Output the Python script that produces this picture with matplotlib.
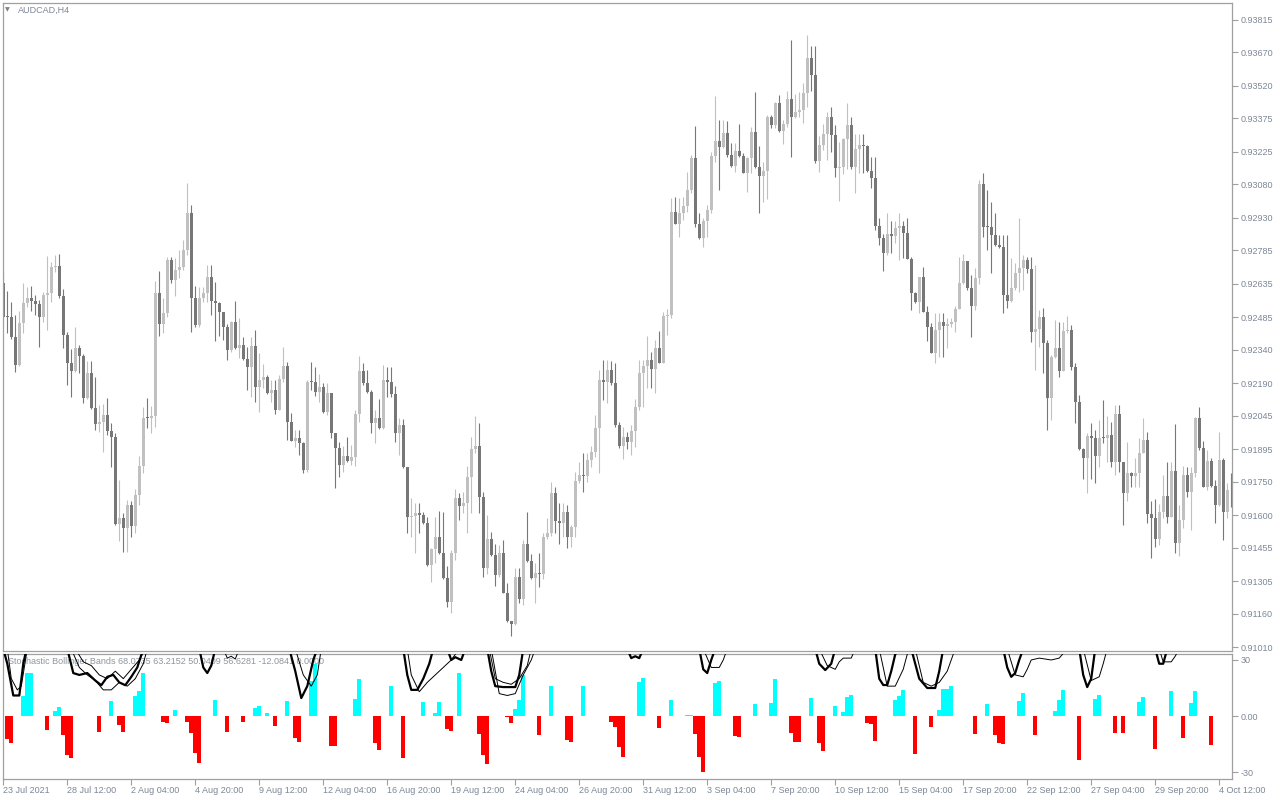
import numpy as np
import matplotlib
matplotlib.use("Agg")
import matplotlib.pyplot as plt

# AUDCAD H4 candles (open of each bar = previous close)
first_open = 0.92639
closes = [
    0.92487, 0.92487, 0.92398, 0.92272, 0.92460, 0.92550, 0.92572, 0.92559, 0.92545, 0.92487,
    0.92585, 0.92594, 0.92711, 0.92715, 0.92581, 0.92407, 0.92281, 0.92246, 0.92348, 0.92313,
    0.92125, 0.92237, 0.92080, 0.92009, 0.92018, 0.92049, 0.91978, 0.91951, 0.91562, 0.91589,
    0.91544, 0.91647, 0.91553, 0.91691, 0.91821, 0.92035, 0.92035, 0.92045, 0.92594, 0.92456,
    0.92505, 0.92742, 0.92652, 0.92697, 0.92711, 0.92787, 0.92952, 0.92572, 0.92451, 0.92572,
    0.92594, 0.92666, 0.92559, 0.92550, 0.92509, 0.92442, 0.92339, 0.92465, 0.92348, 0.92362,
    0.92299, 0.92264, 0.92357, 0.92174, 0.92205, 0.92219, 0.92147, 0.92161, 0.92071, 0.92210,
    0.92268, 0.92018, 0.91933, 0.91946, 0.91924, 0.91803, 0.92196, 0.92196, 0.92152, 0.92176,
    0.92062, 0.92147, 0.91969, 0.91902, 0.91825, 0.91866, 0.91843, 0.91861, 0.92054, 0.92246,
    0.92192, 0.92152, 0.92013, 0.92035, 0.91991, 0.92205, 0.92196, 0.92143, 0.91969, 0.92004,
    0.91817, 0.91593, 0.91597, 0.91611, 0.91602, 0.91566, 0.91379, 0.91450, 0.91504, 0.91432,
    0.91321, 0.91213, 0.91432, 0.91678, 0.91641, 0.91656, 0.91772, 0.91897, 0.91910, 0.91682,
    0.91366, 0.91495, 0.91423, 0.91335, 0.91432, 0.91253, 0.91128, 0.91116, 0.91326, 0.91227,
    0.91472, 0.91396, 0.91321, 0.91344, 0.91339, 0.91504, 0.91521, 0.91700, 0.91575, 0.91566,
    0.91616, 0.91504, 0.91547, 0.91753, 0.91782, 0.91777, 0.91848, 0.91884, 0.91991, 0.92205,
    0.92196, 0.92250, 0.92192, 0.92004, 0.91910, 0.91951, 0.91928, 0.91978, 0.92085, 0.92237,
    0.92268, 0.92295, 0.92255, 0.92348, 0.92281, 0.92491, 0.92496, 0.92956, 0.92903, 0.92952,
    0.92983, 0.93055, 0.93198, 0.92903, 0.92840, 0.92916, 0.92965, 0.93207, 0.93274, 0.93247,
    0.93309, 0.93211, 0.93162, 0.93229, 0.93207, 0.93131, 0.93198, 0.93314, 0.93158, 0.93117,
    0.93140, 0.93381, 0.93345, 0.93444, 0.93318, 0.93350, 0.93461, 0.93381, 0.93403, 0.93412,
    0.93488, 0.93645, 0.93569, 0.93184, 0.93256, 0.93305, 0.93381, 0.93301, 0.93153, 0.93158,
    0.93283, 0.93345, 0.93158, 0.93238, 0.93256, 0.93251, 0.93140, 0.93108, 0.92894, 0.92840,
    0.92773, 0.92858, 0.92849, 0.92885, 0.92894, 0.92863, 0.92746, 0.92594, 0.92554, 0.92666,
    0.92509, 0.92442, 0.92326, 0.92429, 0.92465, 0.92447, 0.92456, 0.92465, 0.92523, 0.92639,
    0.92737, 0.92617, 0.92536, 0.92661, 0.93082, 0.92889, 0.92889, 0.92854, 0.92809, 0.92800,
    0.92585, 0.92559, 0.92617, 0.92684, 0.92706, 0.92742, 0.92702, 0.92420, 0.92433, 0.92487,
    0.92371, 0.92125, 0.92308, 0.92348, 0.92246, 0.92424, 0.92429, 0.92264, 0.92107, 0.91897,
    0.91857, 0.91955, 0.91946, 0.91866, 0.91946, 0.91946, 0.91960, 0.91839, 0.92054, 0.91839,
    0.91700, 0.91790, 0.91777, 0.91790, 0.91879, 0.91936, 0.91606, 0.91589, 0.91495, 0.91615,
    0.91687, 0.91593, 0.91799, 0.91477, 0.91580, 0.91782, 0.91704, 0.91790, 0.92035, 0.91902,
    0.91727, 0.91843, 0.91731, 0.91646, 0.91848, 0.91615, 0.91713, 0.91713,
]
highs = [
    0.92693, 0.92603, 0.92554, 0.92496, 0.92514, 0.92639, 0.92621, 0.92626, 0.92585, 0.92563,
    0.92599, 0.92760, 0.92733, 0.92764, 0.92769, 0.92612, 0.92420, 0.92344, 0.92442, 0.92362,
    0.92322, 0.92290, 0.92290, 0.92219, 0.92094, 0.92098, 0.92125, 0.92013, 0.91969, 0.91758,
    0.91611, 0.91669, 0.91665, 0.91718, 0.91866, 0.92085, 0.92125, 0.92089, 0.92648, 0.92693,
    0.92572, 0.92755, 0.92755, 0.92751, 0.92787, 0.92831, 0.93086, 0.92988, 0.92626, 0.92621,
    0.92621, 0.92720, 0.92720, 0.92643, 0.92554, 0.92482, 0.92456, 0.92469, 0.92559, 0.92482,
    0.92398, 0.92353, 0.92398, 0.92429, 0.92326, 0.92277, 0.92228, 0.92207, 0.92207, 0.92228,
    0.92353, 0.92286, 0.92058, 0.91982, 0.91982, 0.91928, 0.92205, 0.92286, 0.92264, 0.92232,
    0.92192, 0.92192, 0.92147, 0.91969, 0.91928, 0.91910, 0.91951, 0.91915, 0.92071, 0.92313,
    0.92281, 0.92250, 0.92161, 0.92071, 0.92120, 0.92272, 0.92264, 0.92264, 0.92179, 0.92035,
    0.92031, 0.91817, 0.91678, 0.91656, 0.91656, 0.91616, 0.91593, 0.91454, 0.91593, 0.91620,
    0.91614, 0.91374, 0.91446, 0.91718, 0.91700, 0.91704, 0.91821, 0.91951, 0.92045, 0.92013,
    0.91704, 0.91602, 0.91524, 0.91472, 0.91468, 0.91490, 0.91298, 0.91128, 0.91366, 0.91366,
    0.91490, 0.91614, 0.91428, 0.91387, 0.91432, 0.91521, 0.91589, 0.91749, 0.91727, 0.91656,
    0.91656, 0.91647, 0.91557, 0.91794, 0.91839, 0.91879, 0.91879, 0.91910, 0.92049, 0.92250,
    0.92295, 0.92295, 0.92290, 0.92281, 0.92018, 0.91995, 0.91973, 0.92004, 0.92120, 0.92295,
    0.92295, 0.92402, 0.92330, 0.92384, 0.92424, 0.92509, 0.92521, 0.93019, 0.93023, 0.93019,
    0.93023, 0.93135, 0.93211, 0.93341, 0.92952, 0.92929, 0.92988, 0.93225, 0.93475, 0.93368,
    0.93368, 0.93363, 0.93265, 0.93265, 0.93350, 0.93220, 0.93202, 0.93337, 0.93493, 0.93251,
    0.93180, 0.93390, 0.93390, 0.93448, 0.93479, 0.93368, 0.93497, 0.93725, 0.93484, 0.93493,
    0.93533, 0.93748, 0.93698, 0.93698, 0.93296, 0.93350, 0.93403, 0.93426, 0.93345, 0.93269,
    0.93287, 0.93444, 0.93381, 0.93305, 0.93305, 0.93305, 0.93256, 0.93202, 0.93202, 0.92929,
    0.92858, 0.92952, 0.92916, 0.92916, 0.92952, 0.92916, 0.92929, 0.92755, 0.92599, 0.92666,
    0.92711, 0.92536, 0.92460, 0.92505, 0.92505, 0.92505, 0.92482, 0.92482, 0.92536, 0.92755,
    0.92769, 0.92675, 0.92675, 0.92706, 0.93100, 0.93131, 0.93055, 0.93001, 0.92952, 0.92854,
    0.92854, 0.92854, 0.92751, 0.92728, 0.92929, 0.92764, 0.92755, 0.92755, 0.92720, 0.92518,
    0.92527, 0.92384, 0.92317, 0.92474, 0.92465, 0.92465, 0.92491, 0.92451, 0.92281, 0.92138,
    0.91902, 0.91969, 0.92013, 0.91982, 0.92027, 0.92116, 0.92045, 0.92018, 0.92094, 0.92094,
    0.91841, 0.91928, 0.91794, 0.91857, 0.91946, 0.92035, 0.91973, 0.91665, 0.91675, 0.91651,
    0.91782, 0.91841, 0.91841, 0.92009, 0.91647, 0.91821, 0.91817, 0.91817, 0.92040, 0.92085,
    0.91933, 0.91893, 0.91857, 0.91758, 0.91973, 0.91857, 0.91745, 0.91790,
]
lows = [
    0.92474, 0.92416, 0.92389, 0.92241, 0.92268, 0.92416, 0.92532, 0.92514, 0.92496, 0.92353,
    0.92465, 0.92429, 0.92554, 0.92688, 0.92572, 0.92348, 0.92183, 0.92129, 0.92241, 0.92237,
    0.92102, 0.92120, 0.92076, 0.91982, 0.91973, 0.91884, 0.91960, 0.91817, 0.91557, 0.91486,
    0.91437, 0.91437, 0.91504, 0.91521, 0.91647, 0.91790, 0.91991, 0.91969, 0.91995, 0.92402,
    0.92416, 0.92487, 0.92639, 0.92581, 0.92661, 0.92697, 0.92764, 0.92420, 0.92442, 0.92442,
    0.92554, 0.92554, 0.92496, 0.92380, 0.92402, 0.92384, 0.92295, 0.92330, 0.92344, 0.92304,
    0.92295, 0.92161, 0.92129, 0.92107, 0.92062, 0.92170, 0.92143, 0.92107, 0.92054, 0.92071,
    0.92196, 0.91936, 0.91933, 0.91906, 0.91870, 0.91790, 0.91794, 0.92161, 0.92134, 0.92107,
    0.92058, 0.92049, 0.91946, 0.91724, 0.91772, 0.91794, 0.91839, 0.91825, 0.91821, 0.92018,
    0.92183, 0.92147, 0.91969, 0.91924, 0.91986, 0.91986, 0.92129, 0.92129, 0.91928, 0.91870,
    0.91812, 0.91521, 0.91504, 0.91432, 0.91521, 0.91562, 0.91374, 0.91302, 0.91387, 0.91428,
    0.91317, 0.91191, 0.91163, 0.91401, 0.91580, 0.91611, 0.91521, 0.91611, 0.91879, 0.91611,
    0.91326, 0.91339, 0.91419, 0.91285, 0.91326, 0.91253, 0.91124, 0.91062, 0.91111, 0.91209,
    0.91200, 0.91392, 0.91317, 0.91209, 0.91280, 0.91315, 0.91495, 0.91508, 0.91521, 0.91472,
    0.91504, 0.91454, 0.91459, 0.91504, 0.91745, 0.91704, 0.91749, 0.91817, 0.91861, 0.91790,
    0.92116, 0.92102, 0.92183, 0.91995, 0.91902, 0.91852, 0.91897, 0.91870, 0.91906, 0.92071,
    0.92085, 0.92170, 0.92170, 0.92147, 0.92281, 0.92281, 0.92407, 0.92482, 0.92903, 0.92845,
    0.92921, 0.92956, 0.93041, 0.92889, 0.92836, 0.92800, 0.92845, 0.92952, 0.93180, 0.93055,
    0.93242, 0.93202, 0.93158, 0.93135, 0.93202, 0.93131, 0.93046, 0.93131, 0.93153, 0.92952,
    0.93001, 0.93015, 0.93332, 0.93332, 0.93314, 0.93260, 0.93337, 0.93202, 0.93377, 0.93381,
    0.93354, 0.93426, 0.93497, 0.93175, 0.93135, 0.93233, 0.93189, 0.93225, 0.93113, 0.93006,
    0.93126, 0.93149, 0.93149, 0.93041, 0.93131, 0.93131, 0.93135, 0.93064, 0.92876, 0.92809,
    0.92693, 0.92764, 0.92773, 0.92818, 0.92742, 0.92751, 0.92746, 0.92518, 0.92550, 0.92505,
    0.92509, 0.92380, 0.92326, 0.92281, 0.92308, 0.92308, 0.92348, 0.92442, 0.92420, 0.92523,
    0.92635, 0.92608, 0.92398, 0.92518, 0.92635, 0.92845, 0.92787, 0.92684, 0.92804, 0.92795,
    0.92505, 0.92527, 0.92554, 0.92608, 0.92599, 0.92608, 0.92684, 0.92375, 0.92250, 0.92353,
    0.92237, 0.91982, 0.92027, 0.92304, 0.92219, 0.92250, 0.92416, 0.92250, 0.92013, 0.91893,
    0.91763, 0.91700, 0.91763, 0.91745, 0.91817, 0.91924, 0.91839, 0.91817, 0.91782, 0.91794,
    0.91557, 0.91665, 0.91726, 0.91726, 0.91727, 0.91879, 0.91566, 0.91409, 0.91459, 0.91468,
    0.91589, 0.91566, 0.91593, 0.91432, 0.91419, 0.91544, 0.91682, 0.91535, 0.91772, 0.91893,
    0.91726, 0.91713, 0.91727, 0.91566, 0.91641, 0.91490, 0.91589, 0.91636,
]

price_labels = ["0.93815", "0.93670", "0.93520", "0.93375", "0.93225", "0.93080", "0.92930",
                "0.92785", "0.92635", "0.92485", "0.92340", "0.92190", "0.92045", "0.91895",
                "0.91750", "0.91600", "0.91455", "0.91305", "0.91160", "0.91010"]
date_labels = ["23 Jul 2021", "28 Jul 12:00", "2 Aug 04:00", "4 Aug 20:00", "9 Aug 12:00",
               "12 Aug 04:00", "16 Aug 20:00", "19 Aug 12:00", "24 Aug 04:00", "26 Aug 20:00",
               "31 Aug 12:00", "3 Sep 04:00", "7 Sep 20:00", "10 Sep 12:00", "15 Sep 04:00",
               "17 Sep 20:00", "22 Sep 12:00", "27 Sep 04:00", "29 Sep 20:00", "4 Oct 12:00"]
date_every = 16

# histogram of the indicator (bar index, value), zero bars left out
hist_bars = [1, 2, 5, 6, 7, 11, 13, 14, 15, 16, 17, 24, 27, 29, 30, 33, 34, 35, 40, 41,
             43, 46, 47, 48, 49, 53, 56, 60, 63, 64, 66, 68, 71, 73, 74, 77, 78, 82, 83, 88,
             89, 93, 94, 97, 100, 105, 108, 109, 111, 112, 114, 119, 120, 121, 126, 127, 128, 129, 130, 134,
             137, 141, 142, 145, 152, 153, 154, 155, 159, 160, 164, 167, 171, 172, 173, 174, 175, 178, 179, 183,
             184, 188, 192, 193, 197, 198, 199, 202, 204, 205, 208, 210, 211, 212, 216, 217, 218, 223, 224, 225,
             228, 232, 234, 235, 236, 237, 243, 246, 248, 249, 250, 254, 255, 258, 263, 264, 265, 269, 273, 274,
             278, 280, 284, 285, 288, 292, 295, 297, 298, 302]
hist_values = [-12.3, -14.3, 10.7, 22.9, 22.9, -7.5, 2.9, 5.0, -10.2, -20.9, -22.3, -8.4, 8.2, -4.8, -8.4, 10.7, 13.6, 22.9, -3.0, -3.6,
               3.2, -3.0, -8.9, -19.6, -25.4, 8.6, -8.4, -3.0, 4.1, 5.4, 1.8, -5.2, 8.0, -12.0, -13.8, 18.9, 28.0, -16.0, -16.0, 8.9,
               19.6, -14.3, -18.2, 16.0, -22.3, 7.7, 1.8, 7.7, -7.1, -7.9, 23.2, -9.6, -20.9, -25.7, -0.5, -3.6, 3.8, 8.6, 22.0, -10.2,
               16.0, -12.9, -13.8, 16.0, -3.0, -5.7, -16.4, -21.8, 18.2, 20.2, -6.3, 8.6, 0.3, 0.4, -9.6, -22.1, -29.8, 17.5, 18.8, -10.5,
               -11.1, 6.4, 7.1, 19.8, -8.9, -13.8, -13.8, 9.8, -14.3, -18.8, 5.4, 2.3, 10.0, 11.3, -3.6, -4.3, -13.2, 8.6, 10.7, 13.9,
               -20.4, -5.7, 3.2, 14.3, 14.3, 16.0, -9.6, 6.4, -10.2, -14.3, -15.0, 8.0, 12.5, -10.2, 2.7, 8.6, 13.9, -23.6, 8.9, 11.3,
               -8.9, -8.9, 7.7, 10.0, -17.7, 13.4, -11.6, 7.1, 13.4, -15.5]

# band lines of the indicator: only the parts that dip into the visible range
thick_dips = [
    [(0, 36), (1, 28), (2.5, 11), (4, 11), (5, 28), (5.8, 36)],
    [(16, 36), (17.5, 23), (19, 22), (21, 23), (23, 19), (24.5, 16.5), (26, 21), (27.5, 22),
     (29, 18), (30.5, 16.5), (32, 21), (33.5, 26), (35, 36)],
    [(49, 36), (50, 26), (51, 23), (52, 27), (53, 36)],
    [(71.5, 36), (73, 24), (74.5, 9.6), (76, 16), (77.5, 30), (78.5, 36)],
    [(100, 36), (101, 22), (102, 14), (103.5, 14), (105, 20), (106.5, 28), (107.5, 36)],
    [(111, 36), (112, 30), (113, 31.5), (114.5, 30), (115.5, 36)],
    [(121, 36), (122, 24), (123, 16), (125, 15.5), (128, 15.5), (129, 22), (130, 36)],
    [(156, 36), (157, 31), (158, 32), (159, 31), (160, 36)],
    [(174, 36), (175, 25), (176, 23), (177, 30), (178, 36)],
    [(203, 36), (204, 28), (205.5, 24.6), (207, 28), (208, 36)],
    [(218, 36), (219, 20), (220, 16.6), (221, 16.6), (222, 24), (223, 33), (224, 36)],
    [(227, 36), (229, 20), (231, 15), (233, 15), (234, 24), (235, 36)],
    [(250, 36), (251, 26), (252, 21), (253, 23), (254, 30), (255, 36)],
    [(269, 36), (270, 22), (271, 15.5), (272, 20), (273, 36)],
    [(288, 36), (289, 28), (290, 28), (291, 36)],
]
thin_dips = [
    [(1, 36), (2, 20), (3.5, 14), (4.5, 16), (6, 36)],
    [(17, 36), (19, 26), (21, 22), (23, 19), (25, 14), (27, 14), (29, 18), (31, 16), (33, 20), (35, 28), (36, 36)],
    [(18, 36), (20, 29), (22, 27), (24, 22), (26, 20), (28, 24), (30, 20), (32, 25), (34, 30), (35.5, 36)],
    [(55, 36), (56, 31), (57, 32), (58, 30.5), (59, 36)],
    [(73, 36), (75, 22), (77, 16), (78.5, 22), (79.5, 36)],
    [(101, 36), (102, 22), (104, 13), (106, 18), (108, 22), (110, 26), (112, 30), (114, 36)],
    [(122, 36), (124, 12), (126, 11), (128, 12), (130, 22), (132, 30), (133, 36)],
    [(121.5, 36), (123, 20), (125, 18), (127, 17), (129, 20), (131, 27), (132, 36)],
    [(175, 36), (177, 26), (179, 26), (180, 30), (181, 36)],
    [(204, 36), (206, 27), (208, 25), (209, 29), (210, 31), (212, 31), (213, 36)],
    [(219, 36), (221, 16), (223, 16), (225, 25), (226, 33), (227, 36)],
    [(228, 36), (230, 18), (232, 16), (234, 18), (236, 24), (237, 30), (238, 36)],
    [(251, 36), (253, 22), (255, 21), (256, 25), (257, 30), (259, 31), (262, 30), (264, 31), (266, 36)],
    [(270, 36), (272, 19), (274, 21), (275, 28), (276, 36)],
    [(289, 36), (290, 29), (292, 29), (293, 32), (294, 36)],
]
indicator_text = "Stochastic Bollinger Bands 68.0735 63.2152 50.0409 56.6281 -12.0841 0.0000"

plt.rcParams['font.family'] = ['Liberation Sans', 'DejaVu Sans']

FRAME = "#a0a0a0"
LABEL = "#7d8796"
BULL = "#c0c0c0"
BEAR = "#777777"


def styleFrame(ax):
    for sp in ax.spines.values():
        sp.set_color(FRAME)
        sp.set_linewidth(0.9)
    ax.set_facecolor("white")


def drawCandles(ax):
    c = np.array(closes)
    o = np.array([first_open] + closes[:-1])
    x = np.arange(len(c))
    cols = np.where(c > o, BULL, BEAR)
    top = np.maximum(np.array(highs), np.maximum(o, c))
    bot = np.minimum(np.array(lows), np.minimum(o, c))
    ax.vlines(x, bot, top, colors=cols, linewidth=0.8)
    body = np.maximum(np.abs(c - o), 0.00003)
    ax.bar(x, body, bottom=np.minimum(o, c), width=0.75, color=cols, linewidth=0)


fig = plt.figure(figsize=(12.8, 8), dpi=100)
fig.patch.set_facecolor("white")

ax = fig.add_axes([3 / 1280, 149 / 800, 1229 / 1280, 648 / 800])
ax2 = fig.add_axes([3 / 1280, 21 / 800, 1229 / 1280, 125 / 800], sharex=ax)

n = len(closes)
xmin, xmax = -0.075, 307.2

# price pane
drawCandles(ax)
ax.set_xlim(xmin, xmax)
ax.set_ylim(0.90994, 0.93891)
styleFrame(ax)
ax.yaxis.tick_right()
ax.set_yticks([float(s) for s in price_labels])
ax.set_yticklabels(price_labels)
ax.tick_params(axis='y', direction='out', length=4, width=0.8, color=FRAME,
               labelsize=6.5, labelcolor=LABEL, pad=2)
ax.tick_params(axis='x', bottom=False, labelbottom=False)
fig.text(5 / 1280, 1 - 10 / 800, "\u25bc", fontsize=4.5, color="#808080",
         va='center', family='DejaVu Sans')
fig.text(18 / 1280, 1 - 10 / 800, "AUDCAD,H4", fontsize=6.5, color=LABEL, va='center')

# indicator pane
ax2.text(0.004, 0.94, indicator_text, transform=ax2.transAxes, fontsize=6.5,
         color="#8c96a0", va='center', ha='left', zorder=1)
hv = np.array(hist_values)
ax2.bar(hist_bars, hv, width=1.0, color=np.where(hv > 0, "#00ffff", "#ff0000"),
        linewidth=0, zorder=2)
for seg in thick_dips:
    ax2.plot([p[0] for p in seg], [p[1] for p in seg], color="black", linewidth=1.6, zorder=3)
for seg in thin_dips:
    ax2.plot([p[0] for p in seg], [p[1] for p in seg], color="black", linewidth=0.7, zorder=3)
ax2.set_ylim(-33.7, 33.2)
ax2.set_xlim(xmin, xmax)
styleFrame(ax2)
ax2.yaxis.tick_right()
ax2.set_yticks([30, 0, -30])
ax2.set_yticklabels(["30", "0.00", "-30"])
ax2.tick_params(axis='y', direction='out', length=4, width=0.8, color=FRAME,
                labelsize=6.5, labelcolor=LABEL, pad=2)
ax2.set_xticks([i * date_every for i in range(len(date_labels))])
ax2.set_xticklabels(date_labels)
ax2.tick_params(axis='x', direction='out', length=4, width=0.8, color=FRAME,
                labelsize=6.5, labelcolor=LABEL, pad=1)
for lbl in ax2.get_xticklabels():
    lbl.set_horizontalalignment('left')

fig.savefig("out.png", dpi=100, facecolor="white")
